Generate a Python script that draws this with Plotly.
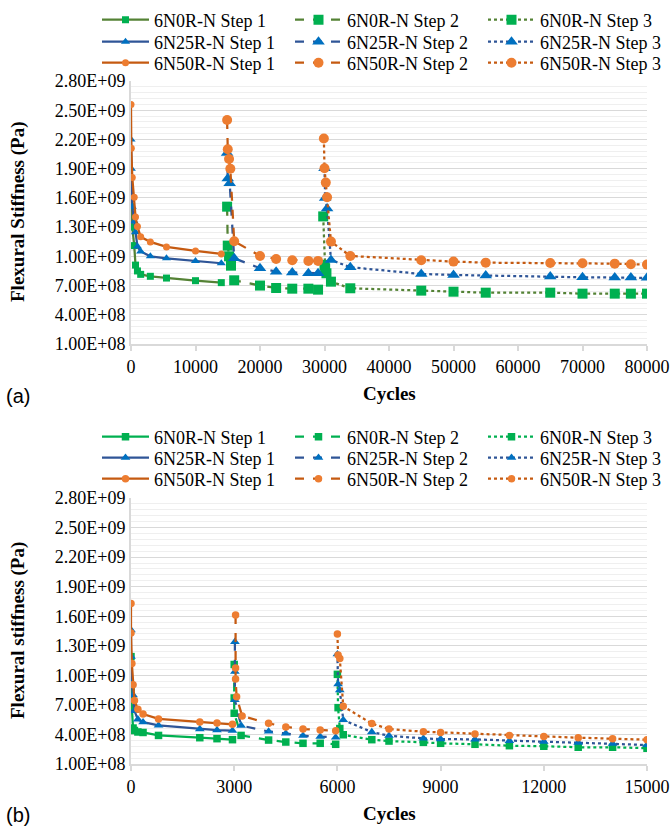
import plotly.graph_objects as go

# ---------------- DATA ----------------
materials = ["6N0R-N", "6N25R-N", "6N50R-N"]
steps = ["Step 1", "Step 2", "Step 3"]

# Panel (a)
a_x_s1 = [0, 50, 200, 500, 700, 1000, 1500, 3000, 5500, 10000, 14000]
a_n0_s1 = [1.60e9, 1.51e9, 1.30e9, 1.11e9, 0.91e9, 0.85e9, 0.815e9, 0.795e9, 0.777e9, 0.75e9, 0.73e9]
a_n25_s1 = [2.20e9, 1.90e9, 1.51e9, 1.357e9, 1.248e9, 1.10e9, 1.05e9, 1.00e9, 0.98e9, 0.953e9, 0.929e9]
a_n50_s1 = [2.56e9, 2.11e9, 1.81e9, 1.607e9, 1.405e9, 1.305e9, 1.20e9, 1.148e9, 1.097e9, 1.055e9, 1.025e9]

a_x_n0_s2 = [14900, 15000, 15200, 15500, 16000, 20000, 22500, 25000, 27500, 29000]
a_n0_s2 = [1.51e9, 1.11e9, 1.00e9, 0.904e9, 0.754e9, 0.70e9, 0.675e9, 0.668e9, 0.668e9, 0.658e9]
a_x_n25_s2 = [14900, 15000, 15300, 16000, 20000, 22500, 25000, 27500, 29000]
a_n25_s2 = [2.06e9, 1.80e9, 1.75e9, 0.98e9, 0.878e9, 0.843e9, 0.833e9, 0.826e9, 0.826e9]
a_x_n50_s2 = [14900, 15000, 15200, 15400, 16000, 20000, 22500, 25000, 27500, 29000]
a_n50_s2 = [2.40e9, 2.10e9, 2.00e9, 1.90e9, 1.155e9, 1.004e9, 0.973e9, 0.96e9, 0.953e9, 0.953e9]

a_x_n0_s3 = [29800, 30000, 30100, 30300, 31000, 34000, 45000, 50000, 55000, 65000, 70000, 75000, 77500, 80000]
a_n0_s3 = [1.41e9, 0.912e9, 0.878e9, 0.826e9, 0.74e9, 0.672e9, 0.648e9, 0.637e9, 0.627e9, 0.627e9, 0.617e9, 0.617e9, 0.617e9, 0.617e9]
a_x_n25_s3 = [30000, 30100, 30400, 31000, 34000, 45000, 50000, 55000, 65000, 70000, 75000, 77500, 80000]
a_n25_s3 = [1.905e9, 1.60e9, 1.49e9, 0.963e9, 0.888e9, 0.819e9, 0.809e9, 0.802e9, 0.792e9, 0.785e9, 0.782e9, 0.782e9, 0.779e9]
a_x_n50_s3 = [29900, 30000, 30200, 30400, 31000, 34000, 45000, 50000, 55000, 65000, 70000, 75000, 77500, 80000]
a_n50_s3 = [2.21e9, 1.905e9, 1.757e9, 1.607e9, 1.151e9, 1.004e9, 0.96e9, 0.946e9, 0.935e9, 0.932e9, 0.929e9, 0.925e9, 0.919e9, 0.915e9]

# Panel (b)
b_x_s1 = [0, 0, 25, 60, 100, 200, 350, 800, 2000, 2500, 2950]
b_n0_s1 = [1.19e9, 0.88e9, 0.665e9, 0.465e9, 0.44e9, 0.425e9, 0.42e9, 0.39e9, 0.367e9, 0.357e9, 0.347e9]
b_n25_s1 = [1.46e9, 1.19e9, 0.92e9, 0.80e9, 0.64e9, 0.553e9, 0.525e9, 0.492e9, 0.455e9, 0.445e9, 0.438e9]
b_n50_s1 = [1.73e9, 1.43e9, 1.12e9, 0.905e9, 0.745e9, 0.655e9, 0.608e9, 0.558e9, 0.526e9, 0.516e9, 0.503e9]

b_x_n0_s2 = [3000, 3000, 3000, 3200, 4000, 4500, 5000, 5500, 5950]
b_n0_s2 = [1.11e9, 0.77e9, 0.615e9, 0.39e9, 0.343e9, 0.323e9, 0.31e9, 0.31e9, 0.30e9]
b_x_n25_s2 = [3020, 3020, 3020, 3200, 4000, 4500, 5000, 5500, 5950]
b_n25_s2 = [1.34e9, 1.037e9, 0.75e9, 0.49e9, 0.43e9, 0.41e9, 0.387e9, 0.377e9, 0.37e9]
b_x_n50_s2 = [3040, 3040, 3040, 3070, 3230, 4000, 4500, 5000, 5500, 5950]
b_n50_s2 = [1.612e9, 1.075e9, 0.963e9, 0.783e9, 0.587e9, 0.513e9, 0.476e9, 0.455e9, 0.445e9, 0.438e9]

b_x_s3 = [6000, 6020, 6070, 6170, 7000, 7500, 8500, 9000, 10000, 11000, 12000, 13000, 14000, 15000]
b_n0_s3 = [1.01e9, 0.672e9, 0.46e9, 0.397e9, 0.347e9, 0.333e9, 0.32e9, 0.31e9, 0.30e9, 0.286e9, 0.28e9, 0.27e9, 0.27e9, 0.26e9]
b_n25_s3 = [1.215e9, 0.91e9, 0.85e9, 0.547e9, 0.424e9, 0.387e9, 0.36e9, 0.353e9, 0.35e9, 0.336e9, 0.326e9, 0.316e9, 0.306e9, 0.293e9]
b_n50_s3 = [1.42e9, 1.206e9, 1.17e9, 0.685e9, 0.51e9, 0.455e9, 0.428e9, 0.421e9, 0.405e9, 0.39e9, 0.38e9, 0.367e9, 0.357e9, 0.347e9]

y_tick_vals = [1e8, 4e8, 7e8, 1.0e9, 1.3e9, 1.6e9, 1.9e9, 2.2e9, 2.5e9, 2.8e9]
y_tick_labels = ["1.00E+08", "4.00E+08", "7.00E+08", "1.00E+09", "1.30E+09",
                 "1.60E+09", "1.90E+09", "2.20E+09", "2.50E+09", "2.80E+09"]
a_x_ticks = [0, 10000, 20000, 30000, 40000, 50000, 60000, 70000, 80000]
b_x_ticks = [0, 3000, 6000, 9000, 12000, 15000]

# ---------------- STYLE ----------------
W, H = 670, 832
SERIF = "Liberation Serif, Times New Roman, serif"
SANS = "Liberation Sans, Arial, sans-serif"
marker_colors = {"6N0R-N": "#00B050", "6N25R-N": "#0070C0", "6N50R-N": "#ED7D31"}
line_colors_a = {"6N0R-N": "#548235", "6N25R-N": "#2F5597", "6N50R-N": "#C55A11"}
line_colors_b = {"6N0R-N": "#00B050", "6N25R-N": "#2F5597", "6N50R-N": "#C55A11"}
symbols = {"6N0R-N": "square", "6N25R-N": "triangle-up", "6N50R-N": "circle"}
dashes = {"Step 1": "solid", "Step 2": "dash", "Step 3": "dot"}

fig = go.Figure()

panel_a = {
    ("6N0R-N", "Step 1"): (a_x_s1, a_n0_s1), ("6N0R-N", "Step 2"): (a_x_n0_s2, a_n0_s2), ("6N0R-N", "Step 3"): (a_x_n0_s3, a_n0_s3),
    ("6N25R-N", "Step 1"): (a_x_s1, a_n25_s1), ("6N25R-N", "Step 2"): (a_x_n25_s2, a_n25_s2), ("6N25R-N", "Step 3"): (a_x_n25_s3, a_n25_s3),
    ("6N50R-N", "Step 1"): (a_x_s1, a_n50_s1), ("6N50R-N", "Step 2"): (a_x_n50_s2, a_n50_s2), ("6N50R-N", "Step 3"): (a_x_n50_s3, a_n50_s3),
}
panel_b = {
    ("6N0R-N", "Step 1"): (b_x_s1, b_n0_s1), ("6N0R-N", "Step 2"): (b_x_n0_s2, b_n0_s2), ("6N0R-N", "Step 3"): (b_x_s3, b_n0_s3),
    ("6N25R-N", "Step 1"): (b_x_s1, b_n25_s1), ("6N25R-N", "Step 2"): (b_x_n25_s2, b_n25_s2), ("6N25R-N", "Step 3"): (b_x_s3, b_n25_s3),
    ("6N50R-N", "Step 1"): (b_x_s1, b_n50_s1), ("6N50R-N", "Step 2"): (b_x_n50_s2, b_n50_s2), ("6N50R-N", "Step 3"): (b_x_s3, b_n50_s3),
}

legend_ids_a = ["legend", "legend2", "legend3"]
legend_ids_b = ["legend4", "legend5", "legend6"]

for mi, m in enumerate(materials):
    for s in steps:
        x, y = panel_a[(m, s)]
        msize = 7 if s == "Step 1" else 10
        if symbols[m] == "triangle-up":
            msize += 1
        fig.add_trace(go.Scatter(
            x=x, y=y, name=f"{m} {s}", mode="lines+markers",
            line=dict(color=line_colors_a[m], width=2.25, dash=dashes[s]),
            marker=dict(symbol=symbols[m], size=msize, color=marker_colors[m], line=dict(width=0)),
            xaxis="x", yaxis="y", legend=legend_ids_a[mi]))
for mi, m in enumerate(materials):
    for s in steps:
        x, y = panel_b[(m, s)]
        msize = 7.5
        if symbols[m] == "triangle-up":
            msize += 1
        fig.add_trace(go.Scatter(
            x=x, y=y, name=f"{m} {s}", mode="lines+markers",
            line=dict(color=line_colors_b[m], width=2.25, dash=dashes[s]),
            marker=dict(symbol=symbols[m], size=msize, color=marker_colors[m], line=dict(width=0)),
            xaxis="x2", yaxis="y2", legend=legend_ids_b[mi]))

xdom = [131 / W, 647 / W]
ya_dom = [(H - 344) / H, (H - 81) / H]
yb_dom = [(H - 764) / H, (H - 498) / H]

tickfont = dict(family=SERIF, size=18, color="#000000")

def yaxis_cfg(dom, anchor):
    return dict(domain=dom, anchor=anchor, range=[1e8, 2.8e9], tickmode="array",
                tickvals=y_tick_vals, ticktext=y_tick_labels, tickfont=tickfont,
                showgrid=True, gridcolor="#D9D9D9", gridwidth=1.3, zeroline=False,
                showline=True, linecolor="#D9D9D9", linewidth=2, ticks="", ticklen=0,
                automargin=False,
                minor=dict(tickmode="linear", tick0=1e8, dtick=6e7, showgrid=True,
                           gridcolor="#EFEFEF", gridwidth=1, ticks=""))

def xaxis_cfg(dom, anchor, rng, ticks):
    return dict(domain=dom, anchor=anchor, range=rng, tickmode="array", tickvals=ticks,
                ticktext=[str(t) for t in ticks], tickfont=tickfont, showgrid=False,
                zeroline=False, showline=True, linecolor="#D9D9D9", linewidth=2,
                automargin=False,
                ticks="outside", ticklen=5, tickcolor="#D9D9D9", tickwidth=1.5)

legend_base = dict(orientation="h", xanchor="left", yanchor="middle",
                   font=dict(family=SERIF, size=18, color="#000000"),
                   entrywidth=131, entrywidthmode="pixels", itemwidth=47,
                   bgcolor="rgba(0,0,0,0)", borderwidth=0, tracegroupgap=0)
row_y_a = [20, 42, 63]
row_y_b = [437, 458, 479]
legends = {}
for lid, yy in zip(legend_ids_a + legend_ids_b, row_y_a + row_y_b):
    d = dict(legend_base)
    d.update(x=97 / W, y=(H - yy) / H)
    legends[lid] = d

annotations = [
    dict(text="<b>Flexural Stiffness (Pa)</b>", x=18 / W, y=(H - 212) / H, xref="paper", yref="paper",
         xanchor="center", yanchor="middle",
         textangle=-90, showarrow=False, font=dict(family=SERIF, size=19, color="#000000")),
    dict(text="<b>Flexural stiffness (Pa)</b>", x=18 / W, y=(H - 631) / H, xref="paper", yref="paper",
         xanchor="center", yanchor="middle",
         textangle=-90, showarrow=False, font=dict(family=SERIF, size=19, color="#000000")),
    dict(text="<b>Cycles</b>", x=389 / W, y=(H - 393) / H, xref="paper", yref="paper",
         xanchor="center", yanchor="middle",
         showarrow=False, font=dict(family=SERIF, size=19, color="#000000")),
    dict(text="<b>Cycles</b>", x=389 / W, y=(H - 813) / H, xref="paper", yref="paper",
         xanchor="center", yanchor="middle",
         showarrow=False, font=dict(family=SERIF, size=19, color="#000000")),
    dict(text="(a)", x=4 / W, y=(H - 396) / H, xref="paper", yref="paper", xanchor="left",
         yanchor="middle", showarrow=False, font=dict(family=SANS, size=20, color="#000000")),
    dict(text="(b)", x=4 / W, y=(H - 815) / H, xref="paper", yref="paper", xanchor="left",
         yanchor="middle", showarrow=False, font=dict(family=SANS, size=20, color="#000000")),
]

fig.update_layout(
    width=W, height=H, margin=dict(l=0, r=0, t=0, b=0, autoexpand=False),
    paper_bgcolor="white", plot_bgcolor="white", showlegend=True,
    xaxis=xaxis_cfg(xdom, "y", [0, 80000], a_x_ticks),
    yaxis=yaxis_cfg(ya_dom, "x"),
    xaxis2=xaxis_cfg(xdom, "y2", [0, 15000], b_x_ticks),
    yaxis2=yaxis_cfg(yb_dom, "x2"),
    annotations=annotations,
    **legends,
)

fig.write_html("out.html")
